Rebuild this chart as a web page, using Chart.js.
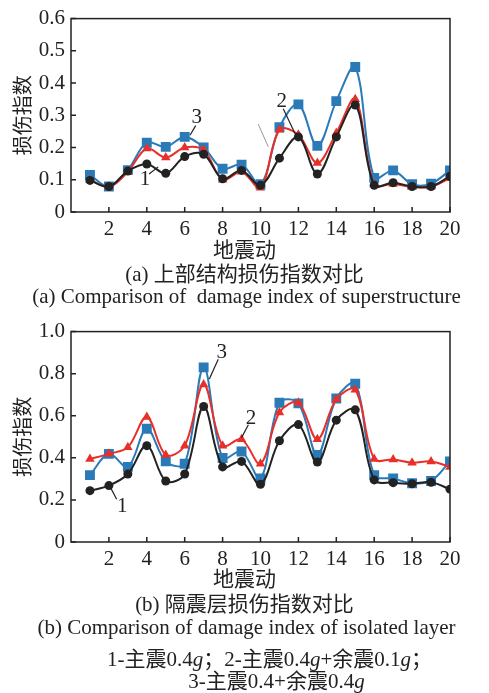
<!DOCTYPE html>
<html>
<head>
<meta charset="utf-8">
<script src="https://cdn.jsdelivr.net/npm/chart.js@4.4.0/dist/chart.umd.min.js"></script>
<style>
  html, body { margin: 0; padding: 0; background: #fff; }
  body { width: 489px; height: 693px; position: relative; overflow: hidden;
         font-family: "Liberation Serif", "Noto Sans CJK SC", serif; color: #222; }
  .box { position: absolute; left: 0; width: 489px; }
  .cap { position: absolute; left: 0; width: 489px; text-align: center; white-space: nowrap;
         font-size: 21px; line-height: 20px; }
</style>
</head>
<body>

<div class="box" style="top:0;height:240px"><canvas id="chartA" width="489" height="240"></canvas></div>
<div class="cap" style="top:240px">地震动</div>
<div class="cap" style="top:264px">(a) 上部结构损伤指数对比</div>
<div class="cap" style="top:286px;left:2px">(a) Comparison of&nbsp; damage index of superstructure</div>

<div class="box" style="top:313px;height:257px"><canvas id="chartB" width="489" height="257"></canvas></div>
<div class="cap" style="top:569px">地震动</div>
<div class="cap" style="top:594px">(b) 隔震层损伤指数对比</div>
<div class="cap" style="top:617px;left:2px">(b) Comparison of damage index of isolated layer</div>
<div class="cap" style="top:649px;left:25px">1-主震0.4<i>g</i>；2-主震0.4<i>g</i>+余震0.1<i>g</i>；</div>
<div class="cap" style="top:671px;left:32px">3-主震0.4+余震0.4<i>g</i></div>

<script>
/* ── Data ─────────────────────────────────────────────────────────────── */
const motions = [1,2,3,4,5,6,7,8,9,10,11,12,13,14,15,16,17,18,19,20];

// (a) superstructure
const supMain   = [0.098,0.079,0.127,0.149,0.120,0.172,0.179,0.103,0.129,0.083,0.167,0.233,0.118,0.233,0.332,0.083,0.091,0.079,0.079,0.111];
const supAfter1 = [0.100,0.078,0.125,0.197,0.169,0.200,0.192,0.100,0.125,0.075,0.255,0.240,0.152,0.245,0.350,0.085,0.087,0.078,0.078,0.105];
const supAfter4 = [0.115,0.079,0.130,0.215,0.202,0.233,0.200,0.134,0.147,0.086,0.263,0.334,0.205,0.344,0.450,0.106,0.129,0.086,0.088,0.129];

// (b) isolated layer
const isoMain   = [0.244,0.268,0.323,0.458,0.290,0.323,0.644,0.357,0.383,0.274,0.481,0.558,0.380,0.579,0.628,0.295,0.282,0.277,0.284,0.251];
const isoAfter1 = [0.395,0.419,0.450,0.594,0.414,0.458,0.749,0.458,0.488,0.372,0.616,0.662,0.488,0.678,0.724,0.395,0.392,0.377,0.383,0.357];
const isoAfter4 = [0.318,0.419,0.357,0.538,0.383,0.372,0.830,0.399,0.430,0.302,0.662,0.659,0.414,0.682,0.752,0.318,0.302,0.279,0.290,0.383];

const xTicks = [2,4,6,8,10,12,14,16,18,20];
const yTicksA = [0,0.1,0.2,0.3,0.4,0.5,0.6];
const yTicksB = [0,0.2,0.4,0.6,0.8,1.0];

// curve labels: [text, textX, textY, lineX1, lineY1, lineX2, lineY2] in data units
const labelsA = [
  ['3', 6.63, 0.293, 6.58, 0.268, 6.28, 0.238],
  ['1', 3.90, 0.102, 4.12, 0.118, 4.60, 0.140],
  ['2', 11.12, 0.344, 11.20, 0.320, 11.91, 0.233]
];
const labelsB = [
  ['3', 7.95, 0.900, 7.77, 0.868, 7.30, 0.775],
  ['2', 9.50, 0.589, 9.36, 0.557, 9.00, 0.496],
  ['1', 2.71, 0.171, 2.41, 0.203, 2.10, 0.256]
];

const INK   = '#222222';
const RED   = '#e8302a';
const BLUE  = '#2a7ab8';
const SERIF = '"Liberation Serif", "Times New Roman", serif';

/* ── Frame, inward ticks and curve labels ─────────────────────────────── */
const decor = {
  id: 'decor',
  afterDatasetsDraw(chart, args, opts) {
    const { ctx, chartArea: a, scales: { x, y } } = chart;
    ctx.save();
    ctx.strokeStyle = INK;
    ctx.lineWidth = 1.5;
    ctx.strokeRect(a.left, a.top, a.right - a.left, a.bottom - a.top);
    ctx.beginPath();
    xTicks.forEach(v => {
      const px = x.getPixelForValue(v);
      ctx.moveTo(px, a.bottom); ctx.lineTo(px, a.bottom - 5);
    });
    opts.yTicks.forEach(v => {
      const py = y.getPixelForValue(v);
      ctx.moveTo(a.left, py); ctx.lineTo(a.left + 5, py);
    });
    ctx.stroke();

    ctx.lineWidth = 1.2;
    ctx.fillStyle = INK;
    ctx.font = '21px ' + SERIF;
    ctx.textAlign = 'center';
    ctx.textBaseline = 'middle';
    opts.labels.forEach(([t, tx, ty, x1, y1, x2, y2]) => {
      ctx.fillText(t, x.getPixelForValue(tx), y.getPixelForValue(ty));
      ctx.beginPath();
      ctx.moveTo(x.getPixelForValue(x1), y.getPixelForValue(y1));
      ctx.lineTo(x.getPixelForValue(x2), y.getPixelForValue(y2));
      ctx.stroke();
    });
    if (opts.stray) {
      const [x1, y1, x2, y2] = opts.stray;
      ctx.strokeStyle = '#999';
      ctx.lineWidth = 1;
      ctx.beginPath();
      ctx.moveTo(x.getPixelForValue(x1), y.getPixelForValue(y1));
      ctx.lineTo(x.getPixelForValue(x2), y.getPixelForValue(y2));
      ctx.stroke();
    }
    ctx.restore();
  }
};

function series(data, color, style, radius) {
  return {
    data: motions.map((m, i) => ({ x: m, y: data[i] })),
    borderColor: color,
    backgroundColor: color,
    borderWidth: 2,
    pointStyle: style,
    pointRadius: radius,
    pointBorderWidth: 0,
    tension: 0.35
  };
}

function makeChart(id, main, after1, after4, yMax, yTicks, labels, stray) {
  return new Chart(document.getElementById(id).getContext('2d'), {
    type: 'line',
    data: {
      datasets: [
        series(main,   INK,  'circle',   4.5),
        series(after1, RED,  'triangle', 5.5),
        series(after4, BLUE, 'rect',     7)
      ]
    },
    options: {
      responsive: false,
      animation: false,
      layout: { padding: { top: 14, right: 39, left: 0, bottom: 0 } },
      plugins: {
        legend: { display: false },
        tooltip: { enabled: false },
        decor: { yTicks, labels, stray }
      },
      scales: {
        x: {
          type: 'linear', min: 0, max: 20,
          afterFit: s => { s.height = 28; },
          afterBuildTicks: s => { s.ticks = xTicks.map(v => ({ value: v })); },
          grid: { display: false, drawTicks: false },
          border: { display: false },
          ticks: { color: INK, padding: 5, font: { family: SERIF, size: 21 } }
        },
        y: {
          min: 0, max: yMax,
          afterFit: s => { s.width = 71; },
          afterBuildTicks: s => { s.ticks = yTicks.map(v => ({ value: v })); },
          grid: { display: false, drawTicks: false },
          border: { display: false },
          ticks: {
            color: INK, padding: 6, font: { family: SERIF, size: 21 },
            callback: v => v === 0 ? '0' : v.toFixed(1)
          },
          title: {
            display: true, text: '损伤指数', color: INK, padding: { top: 10 },
            font: { family: '"Noto Sans CJK SC", sans-serif', size: 20 }
          }
        }
      }
    },
    plugins: [decor]
  });
}

makeChart('chartA', supMain, supAfter1, supAfter4, 0.6, yTicksA, labelsA, [9.88, 0.273, 10.41, 0.202]);
makeChart('chartB', isoMain, isoAfter1, isoAfter4, 1.0, yTicksB, labelsB, null);
</script>
</body>
</html>
